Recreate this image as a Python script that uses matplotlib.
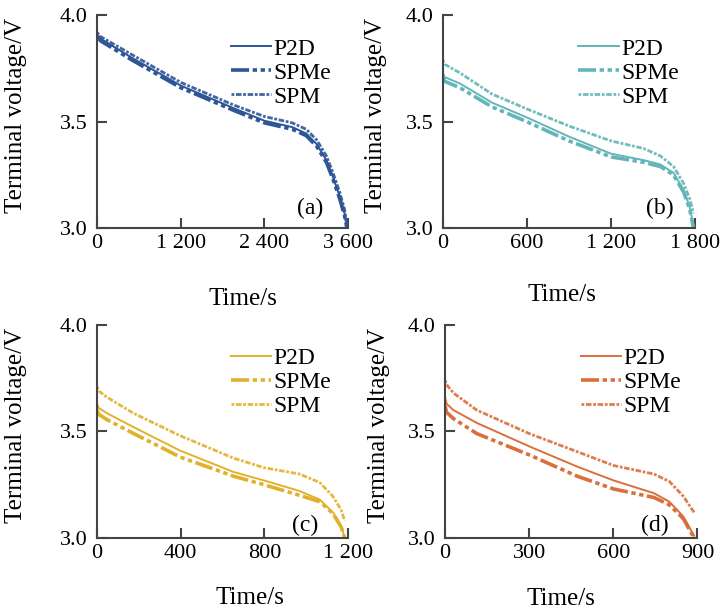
import numpy as np
import matplotlib.pyplot as plt

plt.rcParams['font.family'] = ['Liberation Serif', 'DejaVu Serif']

# --datos (tiempo en s, tension en V)
# (a)
t_a = [0, 50, 500, 1200, 1950, 2400, 2800, 3000, 3150, 3290, 3385, 3480, 3550, 3585]
p2d_a = [3.91, 3.89, 3.80, 3.67, 3.565, 3.505, 3.475, 3.445, 3.395, 3.32, 3.24, 3.15, 3.07, 3.00]
spme_a = [3.90, 3.88, 3.79, 3.66, 3.555, 3.495, 3.465, 3.435, 3.385, 3.31, 3.23, 3.14, 3.06, 3.00]
spm_a = [3.92, 3.90, 3.815, 3.685, 3.58, 3.525, 3.495, 3.465, 3.415, 3.34, 3.26, 3.17, 3.09, 3.01]

# (b)
t_b = [0, 12, 120, 350, 600, 900, 1200, 1430, 1550, 1645, 1717, 1760, 1788]
p2d_b = [3.73, 3.71, 3.68, 3.59, 3.52, 3.43, 3.35, 3.32, 3.30, 3.26, 3.18, 3.10, 3.01]
spme_b = [3.71, 3.69, 3.66, 3.57, 3.50, 3.41, 3.335, 3.31, 3.29, 3.25, 3.17, 3.09, 3.00]
spm_b = [3.79, 3.77, 3.73, 3.63, 3.56, 3.48, 3.41, 3.375, 3.34, 3.29, 3.21, 3.14, 3.07]

# (c)
t_c = [0, 8, 48, 175, 397, 652, 798, 969, 1065, 1128, 1168, 1184]
p2d_c = [3.63, 3.61, 3.585, 3.52, 3.41, 3.31, 3.27, 3.22, 3.18, 3.12, 3.055, 3.00]
spme_c = [3.60, 3.58, 3.555, 3.49, 3.38, 3.29, 3.25, 3.20, 3.17, 3.115, 3.05, 3.00]
spm_c = [3.71, 3.69, 3.66, 3.585, 3.48, 3.375, 3.33, 3.30, 3.26, 3.195, 3.13, 3.08]

# (d)
t_d = [0, 5, 30, 113, 300, 471, 601, 745, 800, 850, 888]
p2d_d = [3.66, 3.63, 3.60, 3.54, 3.43, 3.335, 3.27, 3.21, 3.17, 3.10, 3.01]
spme_d = [3.62, 3.59, 3.56, 3.49, 3.39, 3.29, 3.23, 3.19, 3.155, 3.09, 3.00]
spm_d = [3.74, 3.72, 3.68, 3.60, 3.49, 3.405, 3.34, 3.30, 3.265, 3.195, 3.12]

paneles = [
    (t_a, p2d_a, spme_a, spm_a, [0, 1200, 2400, 3600], ['0', '1 200', '2 400', '3 600'], '#2e5596', '(a)'),
    (t_b, p2d_b, spme_b, spm_b, [0, 600, 1200, 1800], ['0', '600', '1 200', '1 800'], '#62b6b7', '(b)'),
    (t_c, p2d_c, spme_c, spm_c, [0, 400, 800, 1200], ['0', '400', '800', '1 200'], '#e2b12c', '(c)'),
    (t_d, p2d_d, spme_d, spm_d, [0, 300, 600, 900], ['0', '300', '600', '900'], '#d9703c', '(d)'),
]

# --posiciones de los ejes (fraccion de la figura)
rects = [[0.134, 0.627, 0.346, 0.348], [0.611, 0.627, 0.348, 0.348],
         [0.134, 0.121, 0.346, 0.348], [0.614, 0.121, 0.348, 0.348]]
ylab_x = [-0.28, -0.22, -0.28, -0.22]
xlab_pos = [(0.58, -0.28), (0.47, -0.26), (0.61, -0.23), (0.46, -0.235)]
tag_pos = [(0.85, 0.094), (0.86, 0.094), (0.83, 0.06), (0.83, 0.06)]

fig = plt.figure(figsize=(7.25, 6.12), dpi=100)
for i, (t, p2d, spme, spm, xt, xtl, c, tag) in enumerate(paneles):
    ax = fig.add_axes(rects[i])
    ax.plot(t, p2d, color=c, lw=1.4, label='P2D')
    ax.plot(t, spme, color=c, lw=2.6, ls=(0, (5, 1, 1.2, 1, 1.2, 1)), label='SPMe')
    ax.plot(t, spm, color=c, lw=2.0, ls=(0, (1, 0.6, 2, 0.6)), alpha=0.9, label='SPM')
    ax.set_xlim(0, xt[-1])
    ax.set_ylim(3.0, 4.0)
    ax.set_xticks(xt)
    ax.set_xticklabels(xtl)
    ax.set_yticks([3.0, 3.5, 4.0])
    ax.set_yticklabels(['3.0', '3.5', '4.0'])
    for s in ['top', 'right']:
        ax.spines[s].set_visible(False)
    for s in ['left', 'bottom']:
        ax.spines[s].set_color('#444444')
        ax.spines[s].set_linewidth(1.5)
    ax.tick_params(direction='in', length=7, width=1.5, color='#444444',
                   labelsize=16)
    ax.tick_params(axis='x', pad=4)
    ax.tick_params(axis='y', pad=7)
    ax.set_ylabel('Terminal voltage/V', fontsize=18)
    ax.yaxis.set_label_coords(ylab_x[i], 0.53)
    ax.set_xlabel('Time/s', fontsize=18)
    ax.xaxis.set_label_coords(*xlab_pos[i])
    ax.text(tag_pos[i][0], tag_pos[i][1], tag, transform=ax.transAxes,
            fontsize=17, ha='center', va='center')
    ax.legend(loc='upper right', bbox_to_anchor=(1.0, 0.97), frameon=False,
              fontsize=17, handlelength=1.7, handletextpad=0.1,
              labelspacing=0.1, borderpad=0.2)

plt.savefig('out.png', dpi=100)
